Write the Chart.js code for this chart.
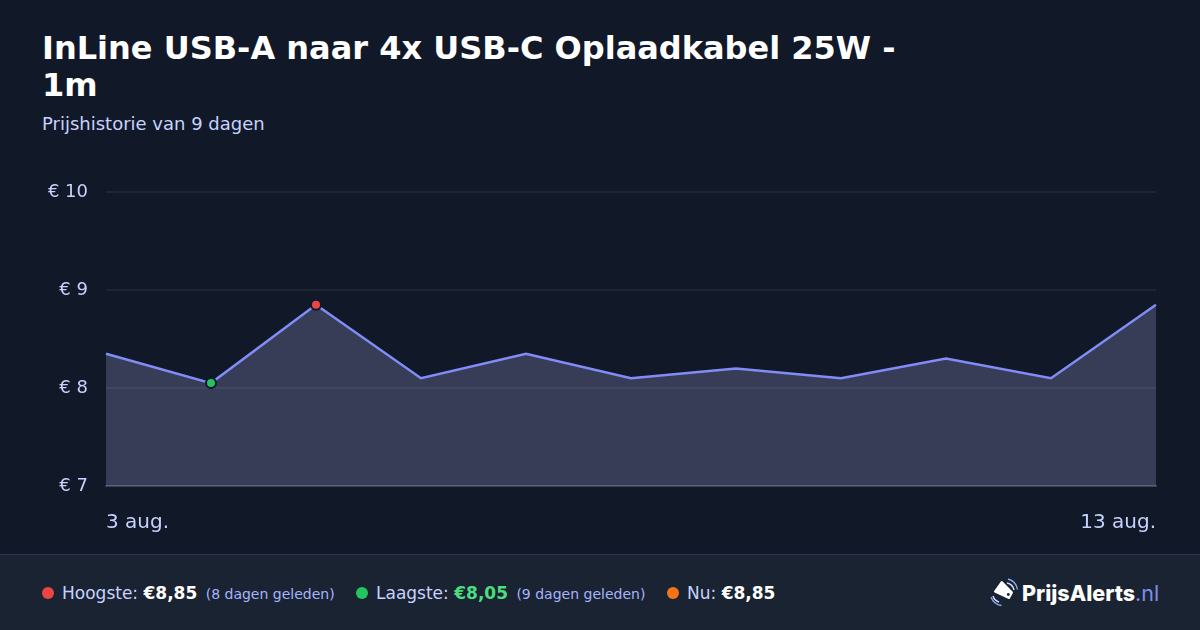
<!DOCTYPE html>
<html lang="nl">
<head>
<meta charset="utf-8">
<script src="https://cdn.jsdelivr.net/npm/chart.js@4"></script>
<style>
html,body{margin:0;padding:0;background:#111827;}
#page{position:relative;width:1200px;height:630px;overflow:hidden;background:#111827;font-family:"DejaVu Sans",sans-serif;color:#fff;}
h1{position:absolute;left:42px;top:30px;width:900px;margin:0;font-size:32px;line-height:37px;font-weight:700;color:#fff;}
#sub{position:absolute;left:42px;top:113px;font-size:18px;line-height:22px;color:#c7d2fe;}
#wrap{position:absolute;left:0;top:0;width:1200px;height:555px;}
#foot{position:absolute;left:0;top:554px;width:1200px;height:76px;background:#1a2332;border-top:1px solid #2a3355;box-sizing:border-box;}
.it{position:absolute;top:0;height:76px;line-height:76px;white-space:nowrap;font-size:17px;color:#c7d2fe;}
.dot{position:absolute;top:32px;width:12px;height:12px;border-radius:50%;}
.it b{color:#fff;font-size:17px;}
.it small{font-size:14px;color:#a5b4fc;margin-left:3px;}
#logo{position:absolute;left:990px;top:22px;}
#brand{position:absolute;left:1022px;top:0;height:76px;line-height:76px;font-family:Inter,sans-serif;font-size:21.5px;font-weight:800;color:#fff;white-space:nowrap;}
#brand span{font-weight:400;color:#7c8ee8;}
</style>
</head>
<body>
<div id="page">
<h1>InLine USB-A naar 4x USB-C Oplaadkabel 25W - 1m</h1>
<div id="sub">Prijshistorie van 9 dagen</div>
<div id="wrap"><canvas id="c" width="1200" height="555"></canvas></div>
<div id="foot">
<span class="dot" style="left:42px;background:#ef4444"></span>
<span class="it" style="left:62px">Hoogste: <b>€8,85</b> <small>(8 dagen geleden)</small></span>
<span class="dot" style="left:356px;background:#22c55e"></span>
<span class="it" style="left:376px">Laagste: <b style="color:#4ade80">€8,05</b> <small>(9 dagen geleden)</small></span>
<span class="dot" style="left:667px;background:#f97316"></span>
<span class="it" style="left:687px">Nu: <b>€8,85</b></span>
<svg id="logo" width="30" height="32" viewBox="0 0 30 32">
<path d="M11.7 5 L22 15.5 L19 21 L5 14.5 Z" fill="#fff" stroke="#fff" stroke-width="2" stroke-linejoin="round"/>
<circle cx="18.3" cy="17.5" r="1.4" fill="#1a2332"/>
<path d="M17 6 A9 9 0 0 1 24 13" fill="none" stroke="#dbe2ff" stroke-width="1.4"/>
<path d="M18 2 A13 13 0 0 1 27.5 12.5" fill="none" stroke="#8ea2ee" stroke-width="1.4"/>
<path d="M3 19 A9 9 0 0 0 9 25" fill="none" stroke="#dbe2ff" stroke-width="1.4"/>
<path d="M1 20 A13 13 0 0 0 11.5 28.5" fill="none" stroke="#8ea2ee" stroke-width="1.4"/>
</svg>
<div id="brand">PrijsAlerts<span>.nl</span></div>
</div>
</div>
<script>
const categories = ["3 aug.","4 aug.","5 aug.","6 aug.","7 aug.","8 aug.","9 aug.","10 aug.","11 aug.","12 aug.","13 aug."];
const prices = [8.35,8.05,8.85,8.10,8.35,8.10,8.20,8.10,8.30,8.10,8.85];
const yTicks = [7,8,9,10];
const xTickLabels = ["3 aug.","13 aug."];
const highIndex = prices.indexOf(Math.max(...prices));
const lowIndex = prices.indexOf(Math.min(...prices));
const AXIS_FONT = {family:"'DejaVu Sans'",size:18};
Chart.defaults.animation = false;
new Chart(document.getElementById('c'),{
  type:'line',
  data:{labels:categories,datasets:[{
    data:prices,
    borderColor:'#818cf8',
    borderWidth:2.5,
    backgroundColor:'rgba(190,195,255,0.22)',
    fill:'start',
    tension:0,
    pointRadius:prices.map((v,i)=>i===highIndex||i===lowIndex?5:0),
    pointBorderWidth:2,
    pointBorderColor:'#111827',
    pointBackgroundColor:prices.map((v,i)=>i===highIndex?'#ef4444':i===lowIndex?'#22c55e':'#818cf8')
  }]},
  options:{
    responsive:false,
    animation:false,
    layout:{padding:{left:0,right:44,top:192,bottom:0}},
    plugins:{legend:{display:false},tooltip:{enabled:false}},
    scales:{
      x:{
        grid:{display:false},
        border:{color:'rgba(255,255,255,0.15)',width:2},
        afterFit(s){s.height=69;},
        ticks:{
          autoSkip:false,maxRotation:0,align:'inner',padding:17,color:'#c7d2fe',
          font:{family:"'DejaVu Sans'",size:20},
          callback(v,i){const l=this.getLabelForValue(v);return xTickLabels.includes(l)?l:'';}
        }
      },
      y:{
        min:7,max:10,
        afterFit(s){s.width=106;},
        afterBuildTicks(s){s.ticks=yTicks.map(v=>({value:v}));},
        grid:{color:'rgba(255,255,255,0.06)',lineWidth:2,drawTicks:false},
        border:{display:false},
        ticks:{padding:18,color:'#c7d2fe',font:AXIS_FONT,callback:v=>'€ '+v}
      }
    }
  }
});
</script>
</body>
</html>
